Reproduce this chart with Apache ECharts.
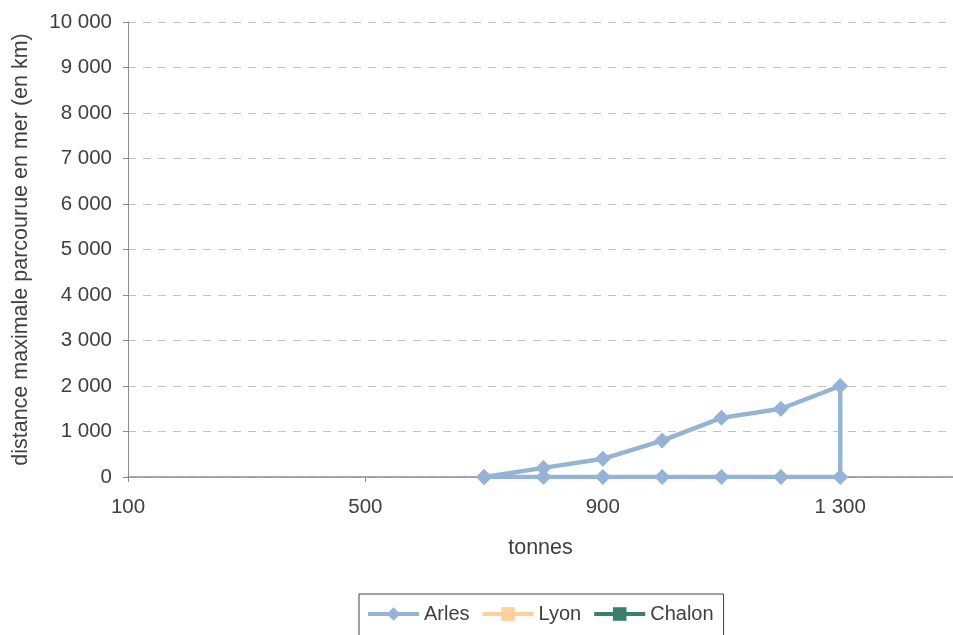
<!DOCTYPE html>
<html>
<head>
<meta charset="utf-8">
<script src="https://cdn.jsdelivr.net/npm/echarts@6/dist/echarts.min.js"></script>
<style>
  html, body { margin: 0; padding: 0; background: #ffffff; }
  #chart { width: 953px; height: 635px; }
</style>
</head>
<body>
<div id="chart"></div>
<script>
// Tonnage (x) and maximum sea distance in km (y) per port
const arlesTonnes = [700, 800, 900, 1000, 1100, 1200, 1300, 1300, 1200, 1100, 1000, 900, 800, 700];
const arlesDistance = [0, 200, 400, 800, 1300, 1500, 2000, 0, 0, 0, 0, 0, 0, 0];
const lyonTonnes = [];
const lyonDistance = [];
const chalonTonnes = [];
const chalonDistance = [];

const xTicks = [100, 500, 900, 1300];
const seriesNames = ['Arles', 'Lyon', 'Chalon'];
const xTitle = 'tonnes';
const yTitle = 'distance maximale parcourue en mer (en km)';

const FONT = '"Liberation Sans", Arial, sans-serif';
const TEXT = '#404040';

function pairs(xs, ys) {
  return xs.map((x, i) => [x, ys[i]]);
}

// French-style thousands grouping: "10 000"
function groupThousands(v) {
  return String(v).replace(/\B(?=(\d{3})+(?!\d))/g, ' ');
}

const chart = echarts.init(document.getElementById('chart'), null, { renderer: 'canvas' });

chart.setOption({
  animation: false,
  backgroundColor: '#ffffff',
  grid: { left: 128, top: 22, width: 825, height: 455, containLabel: false },
  xAxis: {
    type: 'value',
    min: 100,
    max: 1490,
    interval: 400,
    name: xTitle,
    nameLocation: 'middle',
    nameGap: 60,
    nameTextStyle: { fontFamily: FONT, fontSize: 21.5, color: TEXT },
    axisLine: { show: true, onZero: false, lineStyle: { color: '#8c8c8c', width: 1.5 } },
    axisTick: { show: true, length: 5, customValues: xTicks, lineStyle: { color: '#8c8c8c' } },
    splitLine: { show: false },
    axisLabel: {
      margin: 20,
      customValues: xTicks,
      fontFamily: FONT,
      fontSize: 20.5,
      color: TEXT,
      formatter: v => (xTicks.indexOf(v) >= 0 ? groupThousands(v) : '')
    }
  },
  yAxis: {
    type: 'value',
    min: 0,
    max: 10000,
    interval: 1000,
    name: yTitle,
    nameLocation: 'middle',
    nameGap: 96,
    nameTextStyle: { fontFamily: FONT, fontSize: 21.5, color: TEXT },
    axisLine: { show: true, lineStyle: { color: '#8c8c8c', width: 1 } },
    axisTick: { show: true, length: 5, lineStyle: { color: '#8c8c8c' } },
    splitLine: { show: true, lineStyle: { color: '#c8c0c0', width: 1, type: [8, 7] } },
    axisLabel: {
      margin: 16,
      fontFamily: FONT,
      fontSize: 20.5,
      color: TEXT,
      formatter: v => groupThousands(v)
    }
  },
  legend: {
    data: seriesNames,
    left: 359,
    top: 594,
    padding: [10, 10, 30, 7],
    itemWidth: 51,
    itemHeight: 17,
    itemGap: 11,
    borderColor: '#404040',
    borderWidth: 1,
    lineStyle: { width: 4 },
    textStyle: { fontFamily: FONT, fontSize: 20, color: TEXT }
  },
  series: [
    {
      name: seriesNames[0],
      type: 'line',
      data: pairs(arlesTonnes, arlesDistance),
      symbol: 'diamond',
      symbolSize: 16,
      color: '#95b3d7',
      lineStyle: { width: 4.5, color: '#95b3d7' },
      itemStyle: { color: '#95b3d7' },
      z: 3
    },
    {
      name: seriesNames[1],
      type: 'line',
      data: pairs(lyonTonnes, lyonDistance),
      symbol: 'rect',
      symbolSize: 11,
      color: '#fcd19c',
      lineStyle: { width: 4, color: '#fcd19c' },
      itemStyle: { color: '#fcd19c' }
    },
    {
      name: seriesNames[2],
      type: 'line',
      data: pairs(chalonTonnes, chalonDistance),
      symbol: 'rect',
      symbolSize: 11,
      color: '#3a7f6e',
      lineStyle: { width: 4, color: '#3a7f6e' },
      itemStyle: { color: '#3a7f6e' }
    }
  ]
});
</script>
</body>
</html>
